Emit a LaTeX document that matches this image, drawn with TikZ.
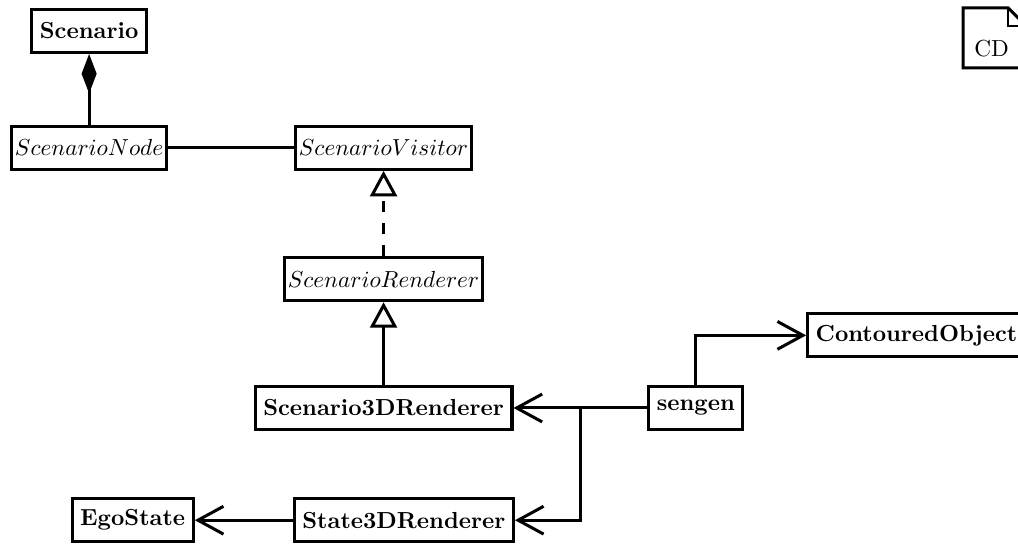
\documentclass[tikz,border=0pt]{standalone}
\usepackage{amsmath,amssymb}
\usetikzlibrary{arrows.meta}

\begin{document}
\begin{tikzpicture}[line width=1.3pt,
  cls/.style={draw,inner xsep=3.5pt,inner ysep=2pt,minimum height=18.5pt},
  abstract/.style={cls,inner xsep=1.6pt},
  uses/.style={-{Straight Barb[length=11pt,width=12pt]}},
  inherit/.style={-{Triangle[open,length=11pt,width=11.6pt]}},
  owns/.style={{Diamond[length=17pt,width=6.5pt]}-}]
\useasboundingbox (0,0) rectangle (15.42,8.23);

\node[cls] (scenario) at (1.35,7.76) {\textbf{Scenario}};
\node[abstract] (scnode) at (1.35,5.99) {$ScenarioNode$};
\node[abstract] (visitor) at (5.81,5.99) {$ScenarioVisitor$};
\node[abstract] (renderer) at (5.81,4.0) {$ScenarioRenderer$};
\node[cls] (render3d) at (5.81,2.05) {\textbf{Scenario3DRenderer}};
\node[cls] (sengen) at (10.54,2.05) {\textbf{sengen}};
\node[cls,anchor=west] (contour) at (12.21,3.15) {\textbf{ContouredObject}};
\node[cls] (ego) at (2.01,0.35) {\textbf{EgoState}};
\node[cls,anchor=east] (state3d) at (7.80,0.35) {\textbf{State3DRenderer}};
\coordinate (split) at (8.79,2.05);

\draw[owns] (scenario) -- (scnode);
\draw (scnode) -- (visitor);
\draw[inherit,dash pattern=on 5pt off 4.5pt] (renderer) -- (visitor);
\draw[inherit] (render3d) -- (renderer);
\draw[uses] (sengen) -- (render3d);
\draw[uses] (split) |- (state3d);
\draw[uses] (sengen) |- (contour);
\draw[uses] (state3d) -- (ego);

% diagram frame tag
\draw (14.59,7.20) -- (14.59,8.11) -- (15.27,8.11) -- (15.54,7.84) -- (15.54,7.20) -- cycle;
\draw[line width=1pt] (15.27,8.11) |- (15.54,7.84);
\node (tag) at (15.02,7.49) {CD};
\end{tikzpicture}
\end{document}
